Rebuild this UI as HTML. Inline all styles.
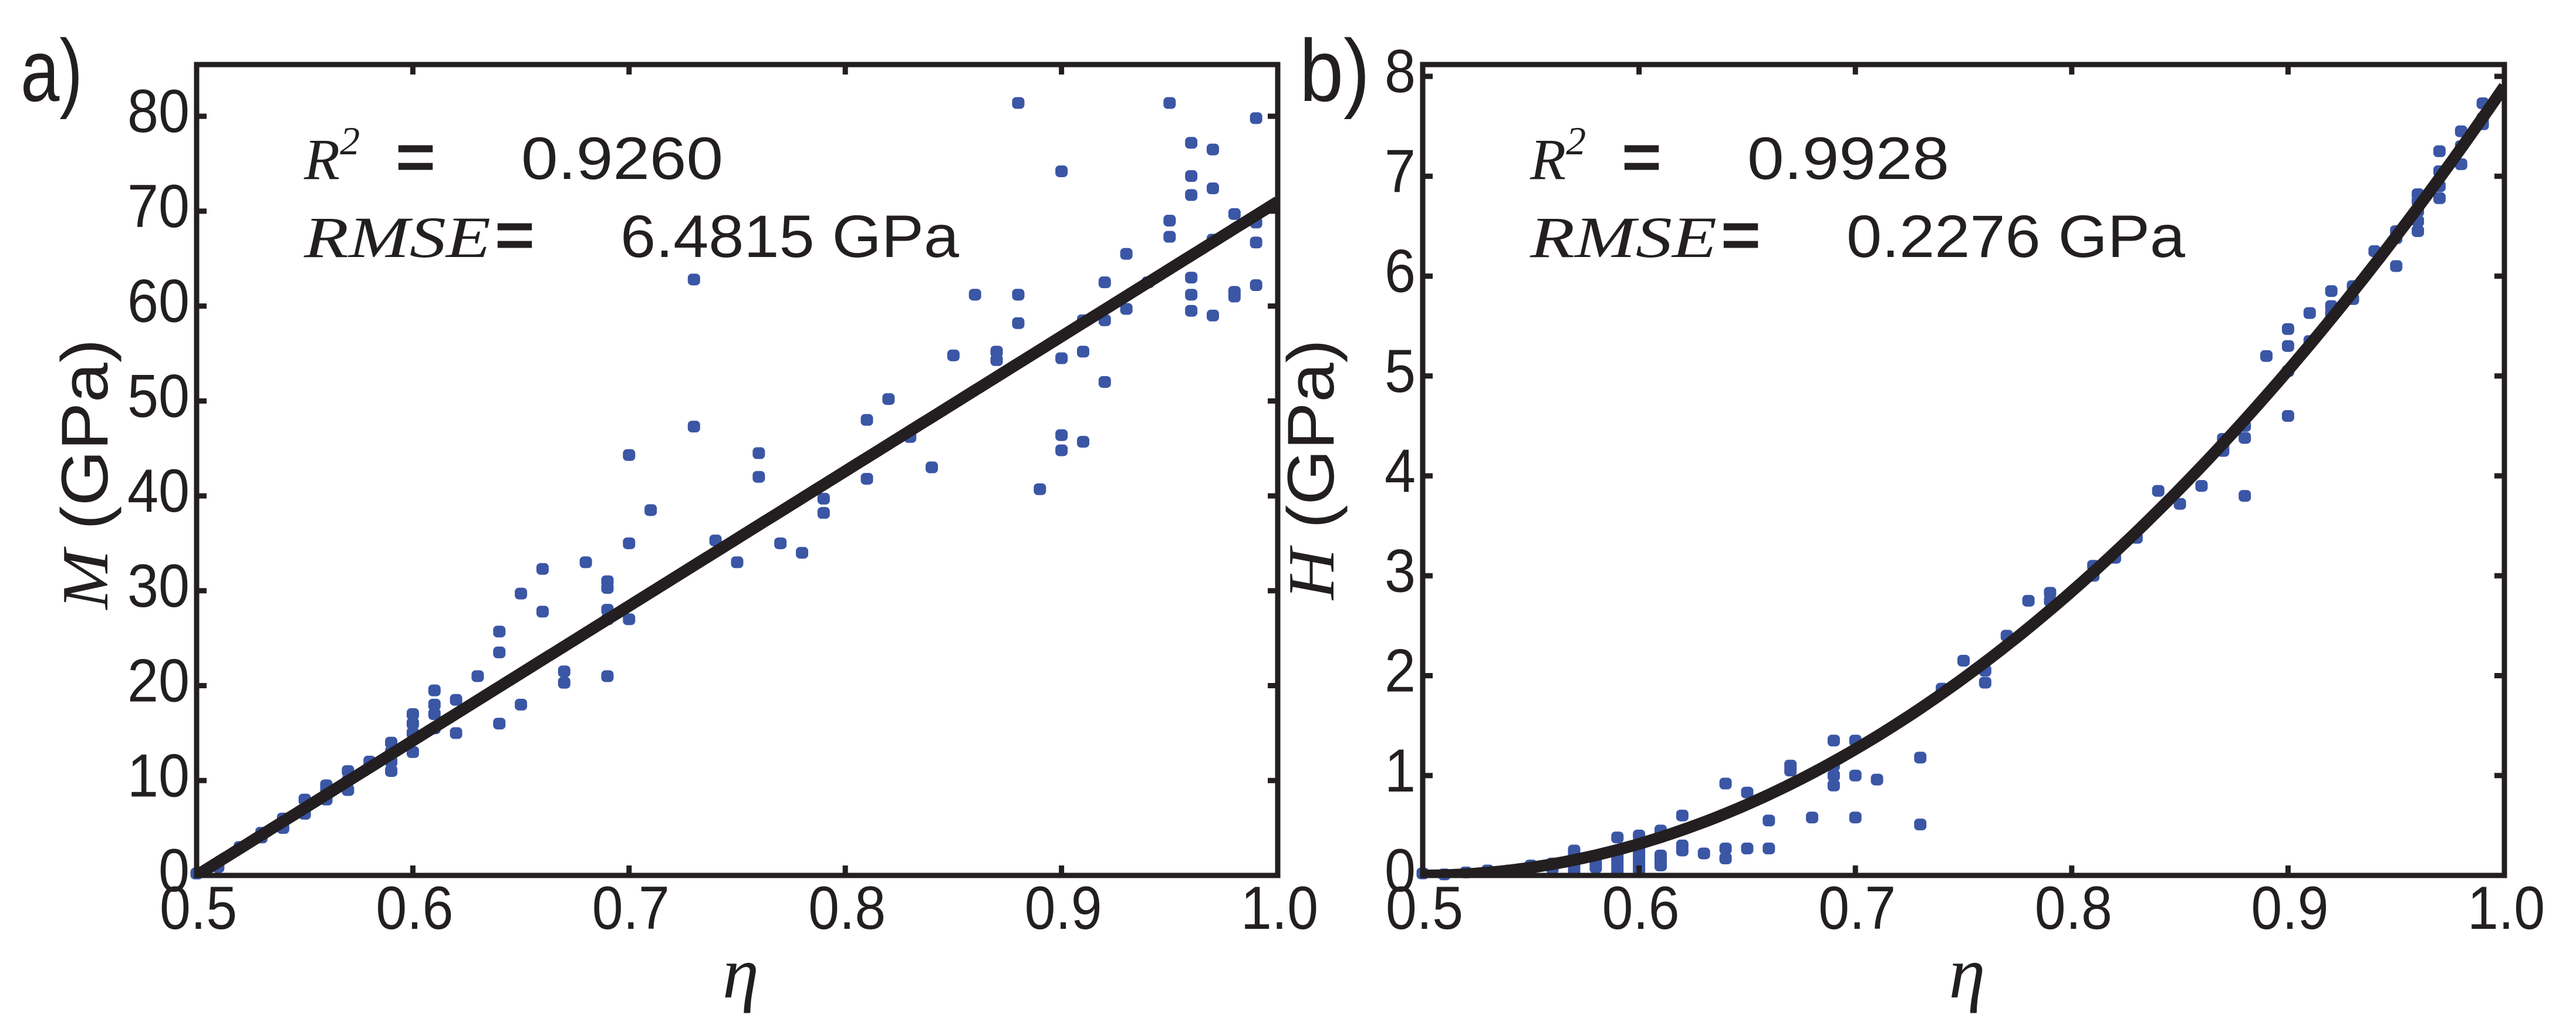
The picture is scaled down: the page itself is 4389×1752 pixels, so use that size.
<!DOCTYPE html>
<html><head><meta charset="utf-8"><style>
html,body{margin:0;padding:0;background:#fff;}
svg{display:block;}
text{fill:#231f20;}
.num{font-family:"Liberation Sans",sans-serif;}
.it{font-family:"Liberation Serif",serif;font-style:italic;}
</style></head>
<body>
<svg id="fig" width="4389" height="1752" viewBox="0 0 4389 1752" xmlns="http://www.w3.org/2000/svg">
<g id="pa"></g>
<g id="pb"></g>
</svg>
<script>
const xTicks = [0.5, 0.6, 0.7, 0.8, 0.9, 1.0];
const xTickLabels = ["0.5", "0.6", "0.7", "0.8", "0.9", "1.0"];
const yTicksA = [0, 10, 20, 30, 40, 50, 60, 70, 80];
const yTickLabelsA = ["0", "10", "20", "30", "40", "50", "60", "70", "80"];
const yTicksB = [0, 1, 2, 3, 4, 5, 6, 7, 8];
const yTickLabelsB = ["0", "1", "2", "3", "4", "5", "6", "7", "8"];
const etaA = [0.50,0.51,0.52,0.53,0.53,0.54,0.54,0.55,0.55,0.55,0.56,0.56,0.56,0.57,0.57,0.57,0.58,0.58,
0.59,0.59,0.59,0.59,0.60,0.60,0.60,0.60,0.61,0.61,0.61,0.61,0.62,0.62,0.63,0.64,0.64,0.64,0.65,0.65,
0.66,0.66,0.67,0.67,0.68,0.69,0.69,0.69,0.69,0.69,0.70,0.70,0.70,0.71,0.73,0.73,0.74,0.75,0.76,0.76,
0.77,0.78,0.79,0.79,0.81,0.81,0.82,0.83,0.84,0.85,0.86,0.87,0.87,0.88,0.88,0.88,0.89,0.90,0.90,0.90,0.90,
0.91,0.91,0.91,0.92,0.92,0.92,0.93,0.93,0.94,0.95,0.95,0.95,0.96,0.96,0.96,0.96,0.96,0.96,
0.97,0.97,0.97,0.97,0.98,0.98,0.98,0.99,0.99,0.99,0.99];
const mA = [0.2,0.9,3,4,4.5,5,6,6.5,7,8,8,9,9.5,9,10,11,11.5,12,
11,12,13,14,13,15,16,17,15.5,17,18,19.5,15,18.5,21,16,23.5,25.7,18,29.7,
27.8,32.3,20.3,21.5,33,21,27,28,30.3,31,27,35,44.3,38.5,47.3,62.8,35.3,33,42,44.5,
35,34,38.2,39.7,41.8,48,50.2,46.2,43,54.8,61.2,54.3,55.2,58.2,61.2,81.4,40.7,44.8,46.4,54.5,74.2,
45.7,55.2,58.5,52,58.5,62.5,59.7,65.5,62.5,67.3,69,81.4,59.5,61.2,63,71.7,73.7,77.2,
59,67,72.4,76.5,61,61.5,69.7,62.2,66.7,68.8,79.8];
const etaB = [0.50,0.51,0.52,0.53,0.54,0.55,0.55,0.56,0.56,0.56,0.57,0.57,0.57,0.57,0.57,0.58,0.58,0.58,
0.59,0.59,0.59,0.59,0.59,0.59,0.60,0.60,0.60,0.60,0.60,0.60,0.61,0.61,0.61,0.61,0.62,0.62,0.62,0.63,
0.64,0.64,0.64,0.65,0.65,0.66,0.66,0.67,0.67,0.68,0.69,0.69,0.69,0.69,0.70,0.70,0.70,0.71,0.73,0.73,
0.74,0.75,0.76,0.76,0.77,0.78,0.79,0.79,0.81,0.81,0.82,0.83,0.84,0.85,0.86,0.87,0.87,0.87,0.88,0.88,0.88,
0.89,0.90,0.90,0.90,0.90,0.91,0.91,0.92,0.92,0.92,0.93,0.93,0.94,0.95,0.95,0.95,0.96,0.96,0.96,0.96,0.96,
0.97,0.97,0.97,0.97,0.98,0.98,0.98,0.99,0.99,0.99];
const hB = [0.02,0.01,0.03,0.05,0.05,0.08,0.1,0.07,0.1,0.12,0.05,0.1,0.15,0.2,0.25,0.08,0.12,0.18,
0.05,0.1,0.15,0.2,0.25,0.38,0.05,0.1,0.15,0.2,0.25,0.4,0.1,0.15,0.2,0.45,0.25,0.3,0.6,0.22,
0.17,0.27,0.92,0.27,0.83,0.27,0.55,1.05,1.1,0.58,0.9,1.0,1.1,1.35,0.58,1.0,1.35,0.96,0.51,1.18,
1.87,2.15,1.93,2.05,2.4,2.75,2.75,2.83,3.0,3.1,3.18,3.38,3.85,3.72,3.9,4.25,4.3,4.37,3.8,4.38,4.5,
5.2,4.6,5.05,5.3,5.47,5.35,5.63,5.63,5.7,5.85,5.77,5.9,6.25,6.1,6.38,6.45,6.45,6.55,6.65,6.75,6.82,
6.78,6.9,7.05,7.25,7.12,7.3,7.45,7.52,7.58,7.73];
const fitA = [142, 0.5];      // M = slope*(eta - eta0)
const fitB = [31.6, 0.5, 2];  // H = a*(eta - eta0)^n

const NS = "http://www.w3.org/2000/svg";
const INK = "#231f20", BLUE = "#3a56a5";
function mk(tag, attrs, parent){const e=document.createElementNS(NS,tag);for(const k in attrs)e.setAttribute(k,attrs[k]);parent.appendChild(e);return e;}

function panel(g, o){
  const L=o.left, R=o.right, T=110, B=1492;
  const sx=v=>L+(v-0.5)/(1.0-0.5)*(R-L);
  const sy=v=>B-(v-o.ymin)/(o.ymax-o.ymin)*(B-T);
  const pts=mk("g",{},g);
  
  
  for(let i=0;i<o.xs.length;i++){
    const r=mk("rect",{x:sx(o.xs[i])-10.5,y:sy(o.ys[i])-10,width:21,height:20,rx:7,fill:BLUE},pts);
    
    
  }
  let d="";
  for(let k=0;k<=200;k++){const e=0.5+0.5*k/200;const v=o.fit(e);d+=(k?"L":"M")+sx(e).toFixed(1)+","+sy(Math.max(v,o.ymin-0.5)).toFixed(1);}
  const cp=mk("clipPath",{id:o.id+"clip"},g);mk("rect",{x:L,y:T,width:R-L,height:B-T},cp);
  const fl=mk("path",{d:d,fill:"none",stroke:INK,"stroke-width":20,"clip-path":"url(#"+o.id+"clip)"},g);
  
  
  const tk=mk("g",{stroke:INK,"stroke-width":9},g);
  
  
  xTicks.forEach((v,i)=>{
    const x=sx(v);
    mk("line",{x1:x,y1:B,x2:x,y2:B-17},tk);mk("line",{x1:x,y1:T,x2:x,y2:T+17},tk);
    const t=mk("text",{x:x+3,y:1583,"text-anchor":"middle","font-size":104,class:"num",textLength:132,lengthAdjust:"spacingAndGlyphs"},g);
    t.textContent=xTickLabels[i];
    
    
  });
  o.yt.forEach((v,i)=>{
    const y=sy(v);
    mk("line",{x1:L,y1:y,x2:L+17,y2:y},tk);mk("line",{x1:R,y1:y,x2:R-17,y2:y},tk);
    const lab=o.ytl[i];
    const t=mk("text",{x:L-12,y:y+27,"text-anchor":"end","font-size":104,class:"num",textLength:lab.length*53,lengthAdjust:"spacingAndGlyphs"},g);
    t.textContent=lab;
    
    
  });
  const fr=mk("rect",{x:L,y:T,width:R-L,height:B-T,fill:"none",stroke:INK,"stroke-width":9},g);
  
  
  const dx=L-335;
  const a1=mk("text",{x:518+dx,y:305,"font-size":100,class:"it"},g);a1.innerHTML='R<tspan dy="-42" font-size="68">2</tspan>';
  
  
  const e1=mk("text",{x:674+dx,y:305,"font-size":110,class:"num","font-weight":"bold",textLength:68,lengthAdjust:"spacingAndGlyphs"},g);e1.textContent="=";
  
  
  const v1=mk("text",{x:888+dx,y:305,"font-size":102,class:"num",textLength:344,lengthAdjust:"spacingAndGlyphs"},g);v1.textContent=o.r2;
  
  
  const a2=mk("text",{x:518+dx,y:438,"font-size":100,class:"it",textLength:318,lengthAdjust:"spacingAndGlyphs"},g);a2.textContent="RMSE";
  
  
  const e2=mk("text",{x:843+dx,y:438,"font-size":110,class:"num","font-weight":"bold",textLength:68,lengthAdjust:"spacingAndGlyphs"},g);e2.textContent="=";
  
  
  const v2=mk("text",{x:1057+dx,y:438,"font-size":102,class:"num",textLength:o.rmseW,lengthAdjust:"spacingAndGlyphs"},g);v2.textContent=o.rmse;
  
  
  const xt=mk("text",{x:(L+R)/2+6,y:1700,"text-anchor":"middle","font-size":125,class:"it"},g);xt.textContent="η";
  
  
  const yt=mk("text",{x:0,y:0,"text-anchor":"middle","font-size":112,class:"num",transform:"translate("+(L-152)+","+o.ytY+") rotate(-90)",textLength:o.ytW,lengthAdjust:"spacingAndGlyphs"},g);
  yt.innerHTML='<tspan class="it">'+o.yv+'</tspan> (GPa)';
  
  
  const pl=mk("text",{x:o.plX,y:172,"font-size":150,class:"num",textLength:o.plW,lengthAdjust:"spacingAndGlyphs"},g);pl.textContent=o.pl;
  
  
}

panel(document.getElementById("pa"),{id:"a",left:335,right:2177,ymin:0,ymax:85.45,xs:etaA,ys:mA,
  fit:e=>fitA[0]*(e-fitA[1]),yt:yTicksA,ytl:yTickLabelsA,r2:"0.9260",rmse:"6.4815 GPa",rmseW:577,
  yv:"M",ytY:808,ytW:461,pl:"a)",plW:106,plX:35});
panel(document.getElementById("pb"),{id:"b",left:2424,right:4267,ymin:0,ymax:8.118,xs:etaB,ys:hB,
  fit:e=>fitB[0]*Math.pow(Math.max(e-fitB[1],0),fitB[2]),yt:yTicksB,ytl:yTickLabelsB,r2:"0.9928",rmse:"0.2276 GPa",rmseW:577,
  yv:"H",ytY:800,ytW:444,pl:"b)",plW:120,plX:2214});
</script>
</body></html>
